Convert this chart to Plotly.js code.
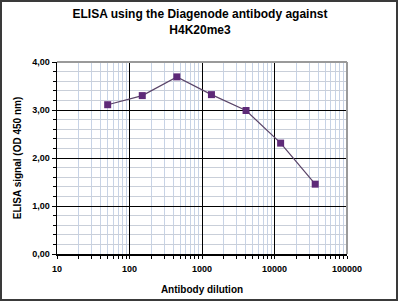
<!DOCTYPE html>
<html>
<head>
<meta charset="utf-8">
<script src="https://cdn.plot.ly/plotly-3.0.1.min.js"></script>
<style>
html,body{margin:0;padding:0;background:#fff;}
#wrap{position:relative;width:400px;height:304px;}
#chart{position:absolute;left:0;top:0;width:400px;height:304px;}
#frame{position:absolute;left:0;top:0;width:398px;height:301px;box-sizing:border-box;border:2px solid #3a3a3a;pointer-events:none;}
</style>
</head>
<body>
<div id="wrap"><div id="chart"></div><div id="frame"></div></div>
<script>
const dilutions = [50, 150, 450, 1350, 4050, 12150, 36450];
const signal = [3.11, 3.30, 3.69, 3.32, 2.99, 2.31, 1.455];
const xTickVals = [10, 100, 1000, 10000, 100000];
const xTickText = ['10', '100', '1000', '10000', '100000'];
const yTickVals = [0, 1, 2, 3, 4];
const yTickText = ['0,00', '1,00', '2,00', '3,00', '4,00'];

const trace = {
  x: dilutions,
  y: signal,
  type: 'scatter',
  mode: 'lines+markers',
  line: {color: '#5a4468', width: 1.2},
  marker: {symbol: 'square', size: 7, color: '#5e2a78'},
  hoverinfo: 'none'
};

const tickFont = {family: 'Liberation Sans, Arial, sans-serif', size: 9, color: '#000', weight: 'bold'};

const layout = {
  width: 400,
  height: 304,
  margin: {l: 57, r: 53, t: 61.5, b: 50},
  paper_bgcolor: '#fff',
  plot_bgcolor: '#fff',
  showlegend: false,
  title: {
    text: '<b>ELISA using the Diagenode antibody against</b><br><b>H4K20me3</b>',
    font: {family: 'Liberation Sans, Arial, sans-serif', size: 12, color: '#000'},
    x: 0.5, xanchor: 'center',
    yref: 'container', y: 0.941, yanchor: 'middle'
  },
  xaxis: {
    type: 'log',
    range: [1, 5],
    tickvals: xTickVals,
    ticktext: xTickText,
    tickfont: tickFont,
    ticklabelstandoff: 3,
    showgrid: true,
    gridcolor: '#000',
    gridwidth: 1,
    showline: true,
    linecolor: '#000',
    linewidth: 1.5,
    ticks: 'outside',
    ticklen: 3,
    tickcolor: '#000',
    minor: {dtick: 'D1', showgrid: true, gridcolor: '#c7d3e6', gridwidth: 1, ticks: 'outside', ticklen: 3, tickcolor: '#000'},
    zeroline: false,
    fixedrange: true,
    title: {text: '<b>Antibody dilution</b>', font: {family: 'Liberation Sans, Arial, sans-serif', size: 10, color: '#000'}, standoff: 12}
  },
  yaxis: {
    range: [0, 4],
    tickvals: yTickVals,
    ticktext: yTickText,
    tickfont: tickFont,
    showgrid: true,
    gridcolor: '#000',
    gridwidth: 1,
    showline: true,
    linecolor: '#000',
    linewidth: 1.5,
    ticks: 'outside',
    ticklen: 4,
    tickcolor: '#000',
    minor: {dtick: 0.2, showgrid: true, gridcolor: '#c9cfd9', gridwidth: 1, ticks: 'outside', ticklen: 3, tickcolor: '#000'},
    zeroline: false,
    fixedrange: true,
    title: {text: '<b>ELISA signal (OD 450 nm)</b>', font: {family: 'Liberation Sans, Arial, sans-serif', size: 10, color: '#000'}, standoff: 8}
  },
  shapes: [
    {type: 'line', xref: 'paper', yref: 'paper', x0: 0, x1: 1, y0: 1, y1: 1, line: {color: '#9a9a9a', width: 2}},
    {type: 'line', xref: 'paper', yref: 'paper', x0: 1, x1: 1, y0: 0, y1: 1, line: {color: '#9a9a9a', width: 2}}
  ]
};

Plotly.newPlot('chart', [trace], layout, {staticPlot: true, displayModeBar: false});
</script>
</body>
</html>
